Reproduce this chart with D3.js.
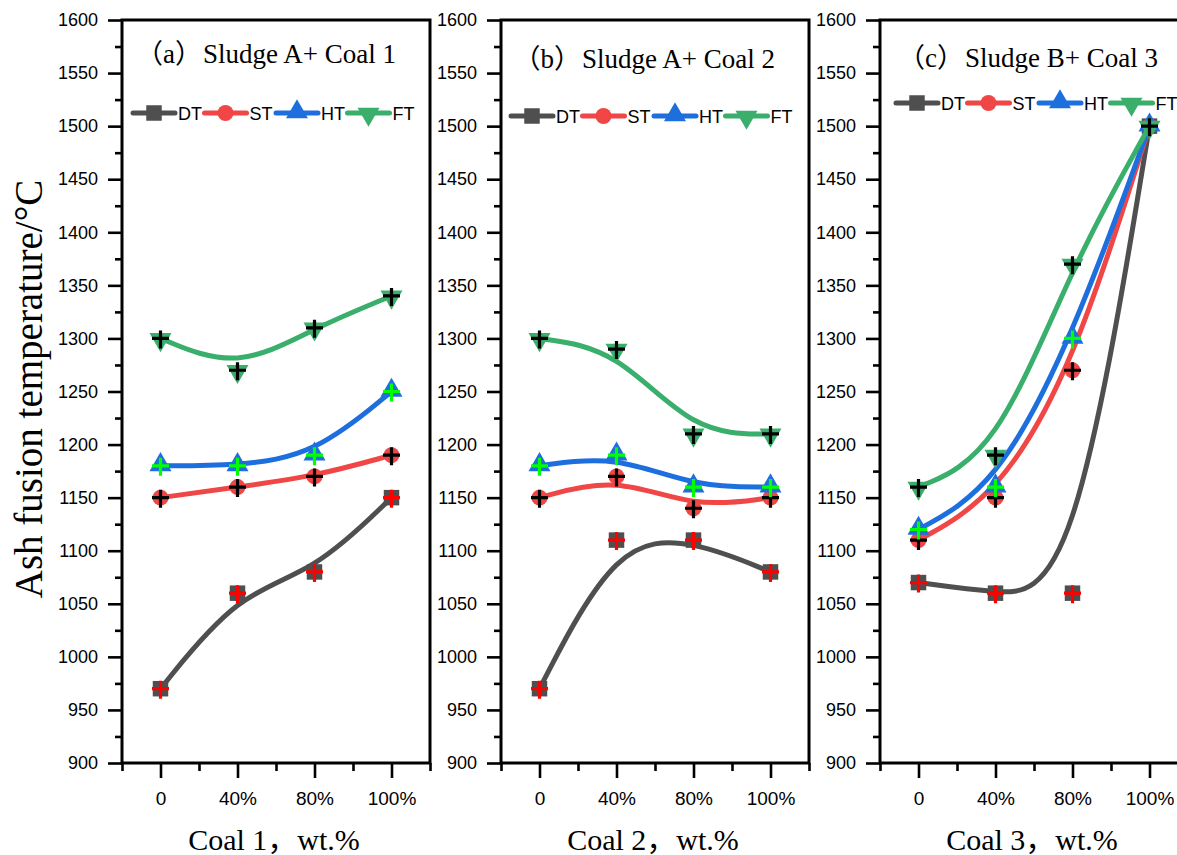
<!DOCTYPE html>
<html>
<head>
<meta charset="utf-8">
<script src="https://cdn.jsdelivr.net/npm/d3@7"></script>
<style>
  body { margin: 0; background: #fff; }
  .tick text { font-family: "Liberation Sans", Arial, sans-serif; }
</style>
</head>
<body>
<div id="chart"></div>
<script>
// categories and tick labels
const categories = ["0", "40%", "80%", "100%"];
const yTicks = [900, 950, 1000, 1050, 1100, 1150, 1200, 1250, 1300, 1350, 1400, 1450, 1500, 1550, 1600];
const yMinorTicks = [925, 975, 1025, 1075, 1125, 1175, 1225, 1275, 1325, 1375, 1425, 1475, 1525, 1575];
const xMinorTicks = [-0.5, 0.5, 1.5, 2.5, 3.5];

const panelTags = ["（a）", "（b）", "（c）"];
const panelTitles = ["Sludge A+ Coal 1", "Sludge A+ Coal 2", "Sludge B+ Coal 3"];
const xTitles = ["Coal 1，wt.%", "Coal 2，wt.%", "Coal 3，wt.%"];
const seriesNames = ["DT", "ST", "HT", "FT"];

// values per panel (a, b, c)
const dtValues = [[970, 1060, 1080, 1150], [970, 1110, 1110, 1080], [1070, 1060, 1060, 1500]];
const stValues = [[1150, 1160, 1170, 1190], [1150, 1170, 1140, 1150], [1110, 1150, 1270, 1500]];
const htValues = [[1180, 1180, 1190, 1250], [1180, 1190, 1160, 1160], [1120, 1160, 1300, 1500]];
const ftValues = [[1300, 1270, 1310, 1340], [1300, 1290, 1210, 1210], [1160, 1190, 1370, 1500]];

const lineColors = ["#4f4f4f", "#f04646", "#1d6fde", "#3aae6b"];
const crossColors = ["#ff0000", "#000000", "#00ff00", "#000000"];
const symbols = [d3.symbolSquare, d3.symbolCircle, d3.symbolTriangle, d3.symbolTriangle];

const width = 1177, height = 855;
const plotTop = 20, plotBottom = 763, plotW = 308;
const axisX = [122, 501, 880];
const legendX = [133, 511, 896];
const legendY = [113, 116, 103];
const titleY = [63, 68, 67];

const svg = d3.select("#chart").append("svg")
  .attr("width", width)
  .attr("height", height);

const y = d3.scaleLinear().domain([900, 1600]).range([plotBottom, plotTop]);

function markerPath(i, size) {
  return d3.symbol().type(symbols[i]).size(size)();
}

function drawMarker(g, i, cx, cy, withCross) {
  const m = g.append("path")
    .attr("d", markerPath(i, i === 1 ? 200 : (i === 0 ? 240 : 210)))
    .attr("fill", lineColors[i]);
  if (i === 3) m.attr("transform", `translate(${cx},${cy + 1}) rotate(180)`);
  else if (i === 2) m.attr("transform", `translate(${cx},${cy - 1})`);
  else m.attr("transform", `translate(${cx},${cy})`);
  if (withCross) {
    g.append("path")
      .attr("d", "M-8.5,0H8.5M0,-8V10")
      .attr("transform", `translate(${cx},${cy})`)
      .attr("stroke", crossColors[i])
      .attr("stroke-width", 3.2)
      .attr("fill", "none");
  }
}

const allSeries = [dtValues, stValues, htValues, ftValues];

panelTitles.forEach((title, p) => {
  const x0 = axisX[p];
  const x = d3.scaleLinear().domain([-0.5, 3.5]).range([x0, x0 + plotW]);
  const g = svg.append("g");

  // y axis
  const yAxis = g.append("g")
    .attr("transform", `translate(${x0},0)`)
    .call(d3.axisLeft(y).tickValues(yTicks).tickFormat(d3.format("d"))
      .tickSize(14).tickSizeOuter(0).tickPadding(10));
  yAxis.select(".domain").remove();
  yAxis.selectAll(".tick line").attr("stroke-width", 2.6);
  yAxis.selectAll(".tick text").attr("font-size", 18).attr("fill", "#000");

  const yMinor = g.append("g")
    .attr("transform", `translate(${x0},0)`)
    .call(d3.axisLeft(y).tickValues(yMinorTicks).tickSize(7).tickFormat(""));
  yMinor.select(".domain").remove();
  yMinor.selectAll(".tick line").attr("stroke-width", 2.6);

  // x axis
  const xAxis = g.append("g")
    .attr("transform", `translate(0,${plotBottom})`)
    .call(d3.axisBottom(x).tickValues([0, 1, 2, 3]).tickFormat(i => categories[i])
      .tickSize(15).tickSizeOuter(0).tickPadding(14));
  xAxis.select(".domain").remove();
  xAxis.selectAll(".tick line").attr("stroke-width", 2.6);
  xAxis.selectAll(".tick text").attr("font-size", 19).attr("fill", "#000");

  const xMinor = g.append("g")
    .attr("transform", `translate(0,${plotBottom})`)
    .call(d3.axisBottom(x).tickValues(xMinorTicks).tickSize(8).tickFormat(""));
  xMinor.select(".domain").remove();
  xMinor.selectAll(".tick line").attr("stroke-width", 2.6);

  // frame
  g.append("rect")
    .attr("x", x0).attr("y", plotTop)
    .attr("width", plotW).attr("height", plotBottom - plotTop)
    .attr("fill", "none").attr("stroke", "#000").attr("stroke-width", 3);

  // title
  const sx = x0 + (p === 2 ? 85 : 81);
  g.append("text")
    .attr("x", sx - 1).attr("y", titleY[p])
    .attr("text-anchor", "end")
    .attr("font-family", "'Liberation Serif', 'Noto Sans CJK SC', serif")
    .attr("font-size", 27)
    .text(panelTags[p]);
  g.append("text")
    .attr("x", sx).attr("y", titleY[p])
    .attr("font-family", "'Liberation Serif', 'Times New Roman', serif")
    .attr("font-size", 27)
    .text(title);

  // x title
  g.append("text")
    .attr("x", x0 + plotW / 2 - 2).attr("y", 850)
    .attr("text-anchor", "middle")
    .attr("font-family", "'Liberation Serif', 'Noto Sans CJK SC', serif")
    .attr("font-size", 30)
    .text(xTitles[p]);

  // series
  const line = d3.line()
    .x((d, i) => x(i))
    .y(d => y(d))
    .curve(d3.curveBasis);

  allSeries.forEach((vals, s) => {
    const data = vals[p];
    const sg = g.append("g");
    sg.append("path")
      .datum(data)
      .attr("d", line)
      .attr("fill", "none")
      .attr("stroke", lineColors[s])
      .attr("stroke-width", 5)
      .attr("stroke-linecap", "round");
    data.forEach((v, i) => drawMarker(sg, s, x(i), y(v), true));
  });

  // legend
  seriesNames.forEach((name, s) => {
    const lx = legendX[p] + s * 71.5;
    const ly = legendY[p];
    const lg = g.append("g");
    lg.append("line")
      .attr("x1", lx).attr("x2", lx + 42)
      .attr("y1", ly).attr("y2", ly)
      .attr("stroke", lineColors[s])
      .attr("stroke-width", 5)
      .attr("stroke-linecap", "round");
    drawMarker(lg, s, lx + 21, ly, false);
    lg.append("text")
      .attr("x", lx + 45).attr("y", ly + 6.5)
      .attr("font-family", "'Liberation Sans', Arial, sans-serif")
      .attr("font-size", 18)
      .text(name);
  });
});

// y axis title
svg.append("text")
  .attr("transform", "translate(42,389) rotate(-90)")
  .attr("text-anchor", "middle")
  .attr("font-family", "'Liberation Serif', 'Times New Roman', serif")
  .attr("font-size", 39)
  .text("Ash fusion temperature/°C");
</script>
</body>
</html>
